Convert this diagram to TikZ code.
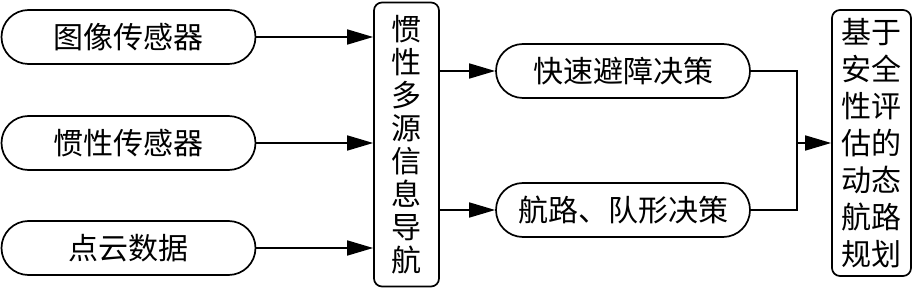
\documentclass[tikz,border=0pt]{standalone}
\usepackage{fontspec}
\newfontfamily\cjk{Noto Sans CJK SC}
\usepackage{tikz}
\usetikzlibrary{arrows.meta, shapes.misc, positioning, calc}

\begin{document}
\begin{tikzpicture}[x=1pt,y=1pt,
		pill/.style={draw,line width=1.7pt,rounded rectangle,minimum width=254pt,minimum height=54pt,inner sep=0pt,font=\cjk\fontsize{30}{34}\selectfont},
		tallbox/.style={draw,line width=1.7pt,rounded corners=8pt,inner sep=0pt,align=center},
		arr/.style={line width=1.7pt,-{Triangle[length=26pt,width=15pt]}}
	]
	\useasboundingbox (0,0) rectangle (912,289);
	% sensors
	\node[pill] (img) at (128.5,252) {图像传感器};
	\node[pill] (imu) at (128.5,146) {惯性传感器};
	\node[pill] (pc)  at (128.5,41)  {点云数据};
	% navigation
	\node[tallbox,minimum width=65pt,minimum height=284pt,font=\cjk\fontsize{30}{33}\selectfont] (nav) at (406.5,144.5)
		{惯\\性\\多\\源\\信\\息\\导\\航};
	% decisions
	\node[pill] (fast)  at (623,218) {快速避障决策};
	\node[pill] (route) at (623,79)  {航路、队形决策};
	% planning
	\node[tallbox,minimum width=79pt,minimum height=266pt,font=\cjk\fontsize{30}{37}\selectfont] (plan) at (871.5,146)
		{基于\\安全\\性评\\估的\\动态\\航路\\规划};
	\coordinate (jn) at (797,146);
	% connectors
	\foreach \s in {img,imu,pc}
		\draw[arr] (\s.east) -- (\s.east -| nav.west);
	\draw[arr] (nav.east |- fast) -- (fast.west);
	\draw[arr] (nav.east |- route) -- (route.west);
	\draw[line width=1.7pt] (fast.east) -| (jn) |- (route.east);
	\draw[arr] (jn) -- (plan.west);
\end{tikzpicture}
\end{document}
